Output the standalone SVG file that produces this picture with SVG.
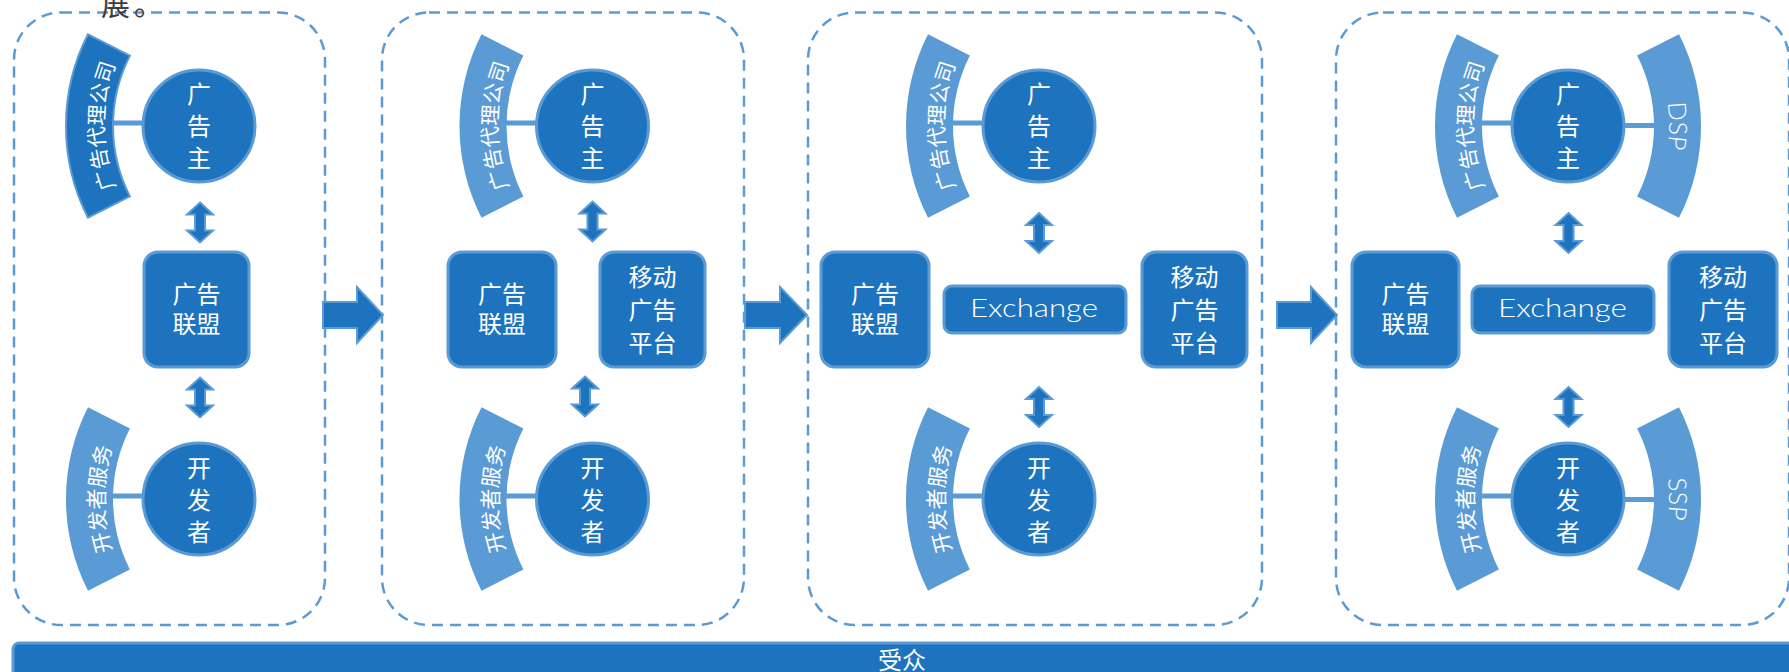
<svg xmlns="http://www.w3.org/2000/svg" xmlns:xlink="http://www.w3.org/1999/xlink" width="1789" height="672" viewBox="0 0 1789 672">
<style>
.panel{fill:none;stroke:#5B9BD5;stroke-width:2.5;stroke-dasharray:11 7}
.node{fill:#1E73BE;stroke:#5B9BD5;stroke-width:3}
.band{fill:#5B9BD5}
.bandDark{fill:#1E73BE;stroke:#5B9BD5;stroke-width:2}
.t{font-family:"Noto Sans CJK SC","Noto Sans",sans-serif;fill:#fff;font-size:24px;text-anchor:middle}
.ta{font-size:21px}
.tl{font-family:Lato,"Liberation Sans",sans-serif;font-size:25px;font-weight:300}
.link{stroke:#5B9BD5;stroke-width:5}
.dbl{fill:#1E73BE;stroke:#5B9BD5;stroke-width:2}
.big{fill:#1E73BE;stroke:#5B9BD5;stroke-width:2}
</style>
<defs>
<path id="arcL" d="M-180 -91.7 A202 202 0 0 0 -180 91.7 L-138.1 70.4 A155 155 0 0 1 -138.1 -70.4 Z"/>
<path id="arcR" d="M180 -91.7 A202 202 0 0 1 180 91.7 L138.1 70.4 A155 155 0 0 0 138.1 -70.4 Z"/>
<path id="tpL" d="M-125.6 105.4 A164 164 0 0 1 -125.6 -105.4" fill="none"/>
<path id="tpR" d="M130.3 -109.3 A170 170 0 0 1 130.3 109.3" fill="none"/>
<path id="dblArrow" d="M0 -20 L13 -8 L5 -8 L5 8 L13 8 L0 20 L-13 8 L-5 8 L-5 -8 L-13 -8 Z"/>
</defs>
<rect width="1789" height="672" fill="#fff"/>

<g id="panels">
<rect class="panel" x="14" y="12.5" width="311" height="612.5" rx="47"/>
<rect class="panel" x="382" y="12.5" width="362" height="612.5" rx="47"/>
<rect class="panel" x="808" y="12.5" width="454" height="612.5" rx="47"/>
<rect class="panel" x="1336" y="12.5" width="453" height="612.5" rx="47"/>
</g>

<text x="101" y="16" font-family="'Noto Sans CJK SC',sans-serif" font-size="29" fill="#404040">展<tspan dx="4">。</tspan></text>

<g id="connectors">
<line class="link" x1="110" y1="123" x2="144" y2="123"/>
<line class="link" x1="110" y1="496" x2="144" y2="496"/>
<line class="link" x1="503" y1="123" x2="537" y2="123"/>
<line class="link" x1="503" y1="496" x2="537" y2="496"/>
<line class="link" x1="950" y1="123" x2="984" y2="123"/>
<line class="link" x1="950" y1="496" x2="984" y2="496"/>
<line class="link" x1="1479" y1="123" x2="1513" y2="123"/>
<line class="link" x1="1479" y1="496" x2="1513" y2="496"/>
<line class="link" x1="1623" y1="125.5" x2="1657" y2="125.5"/>
<line class="link" x1="1623" y1="499.5" x2="1657" y2="499.5"/>
<use href="#dblArrow" class="dbl" transform="translate(200,222.5)"/>
<use href="#dblArrow" class="dbl" transform="translate(200,397.5)"/>
<use href="#dblArrow" class="dbl" transform="translate(592.5,221.5)"/>
<use href="#dblArrow" class="dbl" transform="translate(585,396.5)"/>
<use href="#dblArrow" class="dbl" transform="translate(1039,233)"/>
<use href="#dblArrow" class="dbl" transform="translate(1039,407)"/>
<use href="#dblArrow" class="dbl" transform="translate(1568.5,233)"/>
<use href="#dblArrow" class="dbl" transform="translate(1568.5,407)"/>
<path class="big" d="M323 302 L357 302 L357 287 L383 315 L357 343 L357 328 L323 328 Z"/>
<path class="big" d="M745 302 L780 302 L780 287 L807 315 L780 343 L780 328 L745 328 Z"/>
<path class="big" d="M1277 302 L1311 302 L1311 287 L1337 315 L1311 343 L1311 328 L1277 328 Z"/>
</g>

<!-- Panel 1 -->
<g id="p1-agency" transform="translate(268,126)">
<use href="#arcL" class="bandDark"/>
<text class="t ta"><textPath href="#tpL" startOffset="50%">广告代理公司</textPath></text>
</g>
<g id="p1-advertiser">
<circle class="node" cx="199" cy="126" r="56"/>
<text class="t"><tspan x="199" y="103">广</tspan><tspan x="199" y="135">告</tspan><tspan x="199" y="167">主</tspan></text>
</g>
<g id="p1-network">
<rect class="node" x="144" y="252" width="105" height="115" rx="14"/>
<text class="t" x="196.5" y="303">广告</text>
<text class="t" x="196.5" y="333">联盟</text>
</g>
<g id="p1-devservice" transform="translate(268,499)">
<use href="#arcL" class="band"/>
<text class="t ta"><textPath href="#tpL" startOffset="50%">开发者服务</textPath></text>
</g>
<g id="p1-developer">
<circle class="node" cx="199" cy="499" r="56"/>
<text class="t"><tspan x="199" y="477">开</tspan><tspan x="199" y="509">发</tspan><tspan x="199" y="541">者</tspan></text>
</g>

<!-- Panel 2 -->
<g id="p2-agency" transform="translate(661.5,126)">
<use href="#arcL" class="band"/>
<text class="t ta"><textPath href="#tpL" startOffset="50%">广告代理公司</textPath></text>
</g>
<g id="p2-advertiser">
<circle class="node" cx="592.5" cy="126" r="56"/>
<text class="t"><tspan x="592.5" y="103">广</tspan><tspan x="592.5" y="135">告</tspan><tspan x="592.5" y="167">主</tspan></text>
</g>
<g id="p2-network">
<rect class="node" x="448" y="252" width="108" height="115" rx="14"/>
<text class="t" x="502" y="303">广告</text>
<text class="t" x="502" y="333">联盟</text>
</g>
<g id="p2-mobile">
<rect class="node" x="600" y="252" width="105" height="115" rx="14"/>
<text class="t" x="652.5" y="286">移动</text>
<text class="t" x="652.5" y="319">广告</text>
<text class="t" x="652.5" y="352">平台</text>
</g>
<g id="p2-devservice" transform="translate(661.5,499)">
<use href="#arcL" class="band"/>
<text class="t ta"><textPath href="#tpL" startOffset="50%">开发者服务</textPath></text>
</g>
<g id="p2-developer">
<circle class="node" cx="592.5" cy="499" r="56"/>
<text class="t"><tspan x="592.5" y="477">开</tspan><tspan x="592.5" y="509">发</tspan><tspan x="592.5" y="541">者</tspan></text>
</g>

<!-- Panel 3 -->
<g id="p3-agency" transform="translate(1108,126)">
<use href="#arcL" class="band"/>
<text class="t ta"><textPath href="#tpL" startOffset="50%">广告代理公司</textPath></text>
</g>
<g id="p3-advertiser">
<circle class="node" cx="1039" cy="126" r="56"/>
<text class="t"><tspan x="1039" y="103">广</tspan><tspan x="1039" y="135">告</tspan><tspan x="1039" y="167">主</tspan></text>
</g>
<g id="p3-network">
<rect class="node" x="821" y="252" width="108" height="115" rx="14"/>
<text class="t" x="875" y="303">广告</text>
<text class="t" x="875" y="333">联盟</text>
</g>
<g id="p3-exchange">
<rect class="node" x="944" y="286" width="182" height="47" rx="8"/>
<text class="t tl" x="1034" y="317" textLength="128" lengthAdjust="spacingAndGlyphs">Exchange</text>
</g>
<g id="p3-mobile">
<rect class="node" x="1142" y="252" width="105" height="115" rx="14"/>
<text class="t" x="1194.5" y="286">移动</text>
<text class="t" x="1194.5" y="319">广告</text>
<text class="t" x="1194.5" y="352">平台</text>
</g>
<g id="p3-devservice" transform="translate(1108,499)">
<use href="#arcL" class="band"/>
<text class="t ta"><textPath href="#tpL" startOffset="50%">开发者服务</textPath></text>
</g>
<g id="p3-developer">
<circle class="node" cx="1039" cy="499" r="56"/>
<text class="t"><tspan x="1039" y="477">开</tspan><tspan x="1039" y="509">发</tspan><tspan x="1039" y="541">者</tspan></text>
</g>

<!-- Panel 4 -->
<g id="p4-agency" transform="translate(1637,126)">
<use href="#arcL" class="band"/>
<text class="t ta"><textPath href="#tpL" startOffset="50%">广告代理公司</textPath></text>
</g>
<g id="p4-dsp" transform="translate(1499,126)">
<use href="#arcR" class="band"/>
<text class="t tl"><textPath href="#tpR" startOffset="50%">DSP</textPath></text>
</g>
<g id="p4-advertiser">
<circle class="node" cx="1568" cy="126" r="56"/>
<text class="t"><tspan x="1568" y="103">广</tspan><tspan x="1568" y="135">告</tspan><tspan x="1568" y="167">主</tspan></text>
</g>
<g id="p4-network">
<rect class="node" x="1352" y="252" width="107" height="115" rx="14"/>
<text class="t" x="1405.5" y="303">广告</text>
<text class="t" x="1405.5" y="333">联盟</text>
</g>
<g id="p4-exchange">
<rect class="node" x="1472" y="286" width="182" height="47" rx="8"/>
<text class="t tl" x="1562.5" y="317" textLength="129" lengthAdjust="spacingAndGlyphs">Exchange</text>
</g>
<g id="p4-mobile">
<rect class="node" x="1669" y="252" width="108" height="115" rx="14"/>
<text class="t" x="1723" y="286">移动</text>
<text class="t" x="1723" y="319">广告</text>
<text class="t" x="1723" y="352">平台</text>
</g>
<g id="p4-devservice" transform="translate(1637,499)">
<use href="#arcL" class="band"/>
<text class="t ta"><textPath href="#tpL" startOffset="50%">开发者服务</textPath></text>
</g>
<g id="p4-ssp" transform="translate(1499,499)">
<use href="#arcR" class="band"/>
<text class="t tl"><textPath href="#tpR" startOffset="50%">SSP</textPath></text>
</g>
<g id="p4-developer">
<circle class="node" cx="1568" cy="499" r="56"/>
<text class="t"><tspan x="1568" y="477">开</tspan><tspan x="1568" y="509">发</tspan><tspan x="1568" y="541">者</tspan></text>
</g>

<g id="audience">
<rect class="node" x="13" y="643" width="1800" height="50" rx="6"/>
<text class="t" x="902" y="669">受众</text>
</g>
</svg>
